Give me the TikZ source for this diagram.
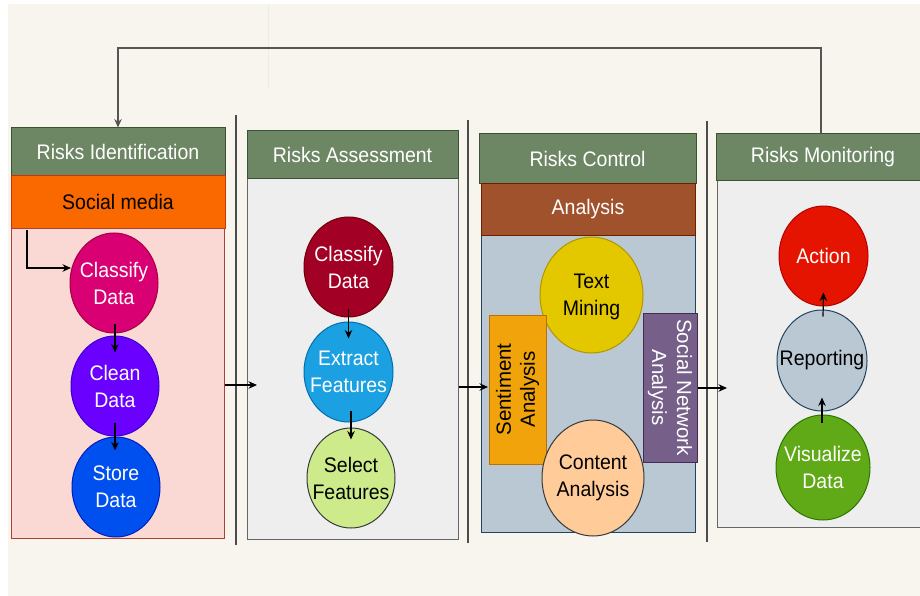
\documentclass[tikz,border=0pt]{standalone}
\usepackage{fontspec}
\setmainfont{Liberation Sans}
\usetikzlibrary{shapes.geometric,arrows.meta,calc}
\definecolor{bgc}{HTML}{F8F5EE}
\definecolor{hdr}{HTML}{6D8764}\definecolor{hdrb}{HTML}{3A5431}
\definecolor{smf}{HTML}{FA6800}\definecolor{smb}{HTML}{C73500}
\definecolor{pinkf}{HTML}{FAD9D5}\definecolor{pinkb}{HTML}{AE4132}
\definecolor{grayf}{HTML}{EEEEEE}\definecolor{grayb}{HTML}{666666}
\definecolor{anf}{HTML}{A0522D}\definecolor{anb}{HTML}{6D1F00}
\definecolor{bluef}{HTML}{BAC8D3}\definecolor{blueb}{HTML}{23445D}
\definecolor{c1f}{HTML}{D80073}\definecolor{c1b}{HTML}{A50040}
\definecolor{c2f}{HTML}{6A00FF}\definecolor{c2b}{HTML}{3700CC}
\definecolor{c3f}{HTML}{0050EF}\definecolor{c3b}{HTML}{001DBC}
\definecolor{d1f}{HTML}{A20025}\definecolor{d1b}{HTML}{6F0000}
\definecolor{d2f}{HTML}{1BA1E2}\definecolor{d2b}{HTML}{006EAF}
\definecolor{d3f}{HTML}{CDEB8B}\definecolor{dkb}{HTML}{36393D}
\definecolor{tmf}{HTML}{E3C800}\definecolor{tmb}{HTML}{B09500}
\definecolor{caf}{HTML}{FFCC99}
\definecolor{sef}{HTML}{F0A30A}\definecolor{seb}{HTML}{BD7000}
\definecolor{snf}{HTML}{76608A}\definecolor{snb}{HTML}{432D57}
\definecolor{acf}{HTML}{E51400}\definecolor{acb}{HTML}{B20000}
\definecolor{vif}{HTML}{60A917}\definecolor{vib}{HTML}{2D7600}
\definecolor{fbc}{HTML}{555555}
\begin{document}
\begin{tikzpicture}[x=1pt,y=-1pt,
  txt/.style={font=\fontsize{19.5}{25}\selectfont, align=center, inner sep=0pt, transform shape, yscale=1.08},
  rtxt/.style={align=center, inner sep=0pt},
  box/.style={draw, line width=1pt, rectangle, inner sep=0pt},
  circ/.style={draw, line width=1pt, ellipse, inner sep=0pt, minimum width=88pt, minimum height=100pt},
  arr/.style={line width=1.2pt, -{Stealth[length=8.5pt,width=7.5pt]}},
  sep/.style={draw=black!70, line width=1.3pt}
]
\useasboundingbox (0,0) rectangle (920,596);
\clip (0,0) rectangle (920,596);
\fill[white] (0,0) rectangle (920,596);
\fill[bgc] (8,4) rectangle (920,596);
\draw[black!8, line width=0.8pt] (268,4) -- (268,89);

% separators
\draw[sep] (236,115) -- (236,545);
\draw[sep] (468,120) -- (468,543);
\draw[sep] (707,121) -- (707,542);

% column 1
\node[box, draw=hdrb, fill=hdr, minimum width=214pt, minimum height=48pt] (h1) at (118,152) {};
\node[txt, text=white] (h1t) at (h1) {Risks Identification};
\node[box, draw=smb, fill=smf, minimum width=214pt, minimum height=52pt] (sm) at (118,202) {};
\node[txt] (smt) at (sm) {Social media};
\node[box, draw=pinkb, fill=pinkf, minimum width=213pt, minimum height=310pt] (b1) at (117.5,383) {};

\node[circ, fill=c1f, draw=c1b] (c1) at (114,283) {};
\node[txt, text=white] (c1t) at (c1) {Classify\\Data};
\node[circ, fill=c2f, draw=c2b] (c2) at (115,386) {};
\node[txt, text=white] (c2t) at (c2) {Clean\\Data};
\node[circ, fill=c3f, draw=c3b] (c3) at (116,487) {};
\node[txt, text=white] (c3t) at (c3) {Store\\Data};

% column 2
\node[box, draw=grayb, fill=grayf, minimum width=211pt, minimum height=360pt] (b2) at (352.5,359) {};
\node[box, draw=hdrb, fill=hdr, minimum width=211pt, minimum height=48pt] (h2) at (352.5,155) {};
\node[txt, text=white] (h2t) at (h2) {Risks Assessment};
\node[circ, fill=d1f, draw=d1b, minimum width=89pt] (d1) at (348.5,267) {};
\node[txt, text=white] (d1t) at (d1) {Classify\\Data};
\node[circ, fill=d2f, draw=d2b, minimum width=89pt] (d2) at (348.5,372) {};
\node[txt, text=white] (d2t) at (d2) {Extract\\Features};
\node[circ, fill=d3f, draw=dkb] (d3) at (351,478) {};
\node[txt] (d3t) at (d3) {Select\\Features};

% column 3
\node[box, draw=blueb, fill=bluef, minimum width=214pt, minimum height=297pt] (b3) at (588,383.5) {};
\node[box, draw=hdrb, fill=hdr, minimum width=217pt, minimum height=50pt] (h3) at (587.5,159) {};
\node[txt, text=white] (h3t) at (h3) {Risks Control};
\node[box, draw=anb, fill=anf, minimum width=214pt, minimum height=51pt] (an) at (588,209.5) {};
\node[txt, text=white] (ant) at (an) {Analysis};
\node[circ, fill=tmf, draw=tmb, minimum width=103pt, minimum height=116pt] (tm) at (591.5,295) {};
\node[txt] (tmt) at ($(tm)+(0,1.5)$) {Text\\Mining};
\node[box, draw=seb, fill=sef, minimum width=57pt, minimum height=149pt] (se) at (517.5,389.5) {};
\node[rtxt, rotate=90, font=\fontsize{20.5}{24}\selectfont] (set) at (se) {Sentiment\\Analysis};
\node[box, draw=snb, fill=snf, minimum width=54pt, minimum height=149pt] (sn) at (670,387.5) {};
\node[rtxt, rotate=-90, text=white, font=\fontsize{20.5}{25}\selectfont] (snt) at (sn) {Social Network\\Analysis};
\node[circ, fill=caf, draw=dkb, minimum width=102pt, minimum height=116pt] (ca) at (593,478) {};
\node[txt] (cat) at (ca) {Content\\Analysis};

% column 4
\node[box, draw=grayb, fill=grayf, minimum width=213pt, minimum height=346pt] (b4) at (823.5,354) {};
\node[box, draw=hdrb, fill=hdr, minimum width=214pt, minimum height=47pt] (h4) at (823,157.5) {};
\node[txt, text=white] (h4t) at (h4) {Risks Monitoring};
\node[circ, fill=acf, draw=acb, minimum width=89pt] (ac) at (823.5,256) {};
\node[txt, text=white] (act) at (ac) {Action};
\node[circ, fill=bluef, draw=blueb, minimum width=90pt, minimum height=101pt] (rp) at (822,360.5) {};
\node[txt] (rpt) at (rp) {Reporting};
\node[circ, fill=vif, draw=vib, minimum width=94pt, minimum height=105pt] (vi) at (823,467.5) {};
\node[txt, text=white] (vit) at (vi) {Visualize\\Data};

% inner arrows
\coordinate (sm0) at (27,230);
\coordinate (sm1) at (71,268);
\draw[arr] (sm0) |- (sm1);
\draw[arr] ($(c1.south)+(1,-10)$) -- ($(c2.north)+(0,17)$);
\draw[arr] ($(c2.south)+(0,-14)$) -- ($(c3.north)+(-1,14)$);
\draw[arr] ($(d1.south)+(0,-9)$) -- ($(d2.north)+(0,17)$);
\draw[arr] ($(d2.south)+(2.5,-12)$) -- ($(d3.north)+(0,12)$);
\draw[arr] ($(vi.north)+(-1,8)$) -- ($(rp.south)+(0,-14)$);
\draw[arr] ($(rp.north)+(1,7)$) -- ($(ac.south)+(0,-14)$);

% between columns
\coordinate (e1) at (257,385);
\coordinate (e2) at (488,387);
\coordinate (e3) at (727,388);
\draw[arr] (b1.east |- e1) -- (e1);
\draw[arr] (b2.east |- e2) -- (e2);
\draw[arr] (sn.east |- e3) -- (e3);

% feedback loop
\coordinate (fb) at (821,48);
\draw[arr, draw=fbc] (h4.north -| fb) -- (fb) -| (h1.north);
\end{tikzpicture}
\end{document}
